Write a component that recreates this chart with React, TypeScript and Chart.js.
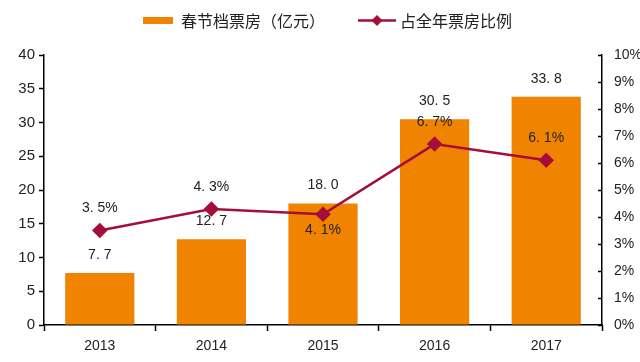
import React, { useEffect, useRef } from "react";
import { Chart, registerables } from "chart.js";

Chart.register(...registerables);

const categories = ["2013", "2014", "2015", "2016", "2017"];
const boxOffice = [7.7, 12.7, 18.0, 30.5, 33.8];
const share = [3.5, 4.3, 4.1, 6.7, 6.1];
const boxLabels = ["7. 7", "12. 7", "18. 0", "30. 5", "33. 8"];
const shareLabels = ["3. 5%", "4. 3%", "4. 1%", "6. 7%", "6. 1%"];
const shareLabelBelow = [false, false, true, false, false];
const barName = "春节档票房（亿元）";
const lineName = "占全年票房比例";

const ORANGE = "#F08300";
const RED = "#A50D3B";
const FONT = "'Liberation Sans', Arial, sans-serif";
const CJK = "'Noto Sans CJK SC', sans-serif";

const labelPlugin = {
  id: "customLabels",
  afterDatasetsDraw(chart: any) {
    const ctx = chart.ctx;
    ctx.save();
    // inward ticks on right axis
    const y1 = chart.scales.y1;
    ctx.strokeStyle = "#000";
    ctx.lineWidth = 1.5;
    y1.ticks.forEach((t: any) => {
      const py = Math.round(y1.getPixelForValue(t.value)) + 0.5;
      ctx.beginPath();
      ctx.moveTo(y1.left - 4, py);
      ctx.lineTo(y1.left, py);
      ctx.stroke();
    });
    ctx.fillStyle = "#222";
    ctx.font = `14px ${FONT}`;
    ctx.textAlign = "center";
    ctx.textBaseline = "middle";
    const barMeta = chart.getDatasetMeta(0);
    barMeta.data.forEach((el: any, i: number) => {
      ctx.fillText(boxLabels[i], el.x, el.y - 18);
    });
    const lineMeta = chart.getDatasetMeta(1);
    lineMeta.data.forEach((el: any, i: number) => {
      const dy = shareLabelBelow[i] ? 16 : -22;
      ctx.fillText(shareLabels[i], el.x, el.y + dy);
    });
    // legend
    ctx.fillStyle = ORANGE;
    ctx.fillRect(143, 17, 30, 7);
    ctx.fillStyle = "#222";
    ctx.textAlign = "left";
    ctx.font = `16px ${CJK}`;
    ctx.fillText(barName, 181, 21);
    ctx.strokeStyle = RED;
    ctx.lineWidth = 2.5;
    ctx.beginPath();
    ctx.moveTo(358, 20.5);
    ctx.lineTo(396, 20.5);
    ctx.stroke();
    ctx.fillStyle = RED;
    ctx.beginPath();
    ctx.moveTo(377, 15);
    ctx.lineTo(382.5, 20.5);
    ctx.lineTo(377, 26);
    ctx.lineTo(371.5, 20.5);
    ctx.closePath();
    ctx.fill();
    ctx.fillStyle = "#222";
    ctx.fillText(lineName, 400, 21);
    ctx.restore();
  },
};

export default function App() {
  const ref = useRef<HTMLCanvasElement>(null);
  useEffect(() => {
    const chart = new Chart(ref.current!, {
      type: "bar",
      data: {
        labels: categories,
        datasets: [
          {
            type: "bar",
            label: barName,
            data: boxOffice,
            backgroundColor: ORANGE,
            yAxisID: "y",
            barPercentage: 0.62,
            categoryPercentage: 1,
            order: 2,
          },
          {
            type: "line",
            label: lineName,
            data: share,
            borderColor: RED,
            backgroundColor: RED,
            borderWidth: 2.5,
            pointStyle: "rectRot",
            pointRadius: 6,
            pointHoverRadius: 6,
            yAxisID: "y1",
            order: 1,
          } as any,
        ],
      },
      options: {
        responsive: false,
        animation: false,
        layout: { padding: { top: 55, left: 0, right: 0, bottom: 0 } },
        plugins: { legend: { display: false }, tooltip: { enabled: false } },
        scales: {
          x: {
            offset: true,
            grid: {
              display: true,
              offset: true,
              drawOnChartArea: false,
              color: "#000",
              tickLength: 6,
              tickWidth: 1.5,
            },
            border: { display: true, color: "#000", width: 1.5 },
            ticks: { color: "#222", font: { size: 14, family: FONT }, padding: 7 },
            afterFit(scale: any) {
              scale.height = 37;
            },
          },
          y: {
            position: "left",
            min: 0,
            max: 40,
            ticks: { stepSize: 5, color: "#222", font: { size: 15, family: FONT }, padding: 4 },
            grid: { drawOnChartArea: false, color: "#000", tickLength: 5, tickWidth: 1.5 },
            border: { display: true, color: "#000", width: 1.5 },
            afterFit(scale: any) {
              scale.width = 44;
            },
          },
          y1: {
            position: "right",
            min: 0,
            max: 10,
            ticks: {
              stepSize: 1,
              color: "#222",
              font: { size: 14, family: FONT },
              padding: 12,
              callback: (v: any) => v + "%",
            },
            grid: { drawOnChartArea: false, drawTicks: false, color: "#000", tickLength: 0 },
            border: { display: true, color: "#000", width: 1.5 },
            afterFit(scale: any) {
              scale.width = 38;
            },
          },
        },
      },
      plugins: [labelPlugin],
    });
    return () => chart.destroy();
  }, []);
  return (
    <div style={{ position: "fixed", left: 0, top: 0, width: 640, height: 362, background: "#fff" }}>
      <canvas ref={ref} width={640} height={362} />
    </div>
  );
}
